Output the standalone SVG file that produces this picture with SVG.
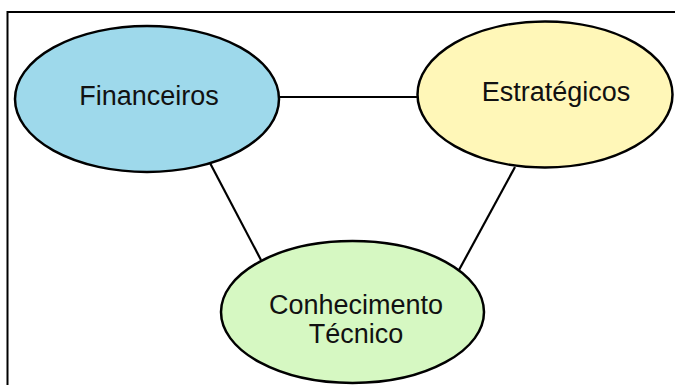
<svg xmlns="http://www.w3.org/2000/svg" width="675" height="385" viewBox="0 0 675 385">
<style>
.n{stroke:#000;stroke-width:2.5}
.t{font-family:"Liberation Sans",Arial,sans-serif;font-size:27px;fill:#111;text-anchor:middle}
.c line{stroke:#000;stroke-width:2.2}
</style>
<rect x="0" y="0" width="675" height="385" fill="#fff"/>
<rect x="7.5" y="12" width="700" height="400" fill="none" stroke="#000" stroke-width="2"/>
<g class="c" id="connectors">
<line x1="279" y1="97" x2="417" y2="97"/>
<line x1="210" y1="163" x2="261" y2="260"/>
<line x1="515" y1="167" x2="459" y2="270"/>
</g>
<g id="financeiros">
<ellipse class="n" cx="147" cy="99" rx="132" ry="73" fill="#9ED9EB"/>
<text class="t" x="149" y="105">Financeiros</text>
</g>
<g id="estrategicos">
<ellipse class="n" cx="545" cy="94.5" rx="127.5" ry="73" fill="#FFF7B8"/>
<text class="t" x="556" y="101">Estratégicos</text>
</g>
<g id="conhecimento">
<ellipse class="n" cx="352.5" cy="312" rx="131.5" ry="71" fill="#D6F8C2"/>
<text class="t" x="356" y="314">Conhecimento</text>
<text class="t" x="356" y="343">Técnico</text>
</g>
</svg>
